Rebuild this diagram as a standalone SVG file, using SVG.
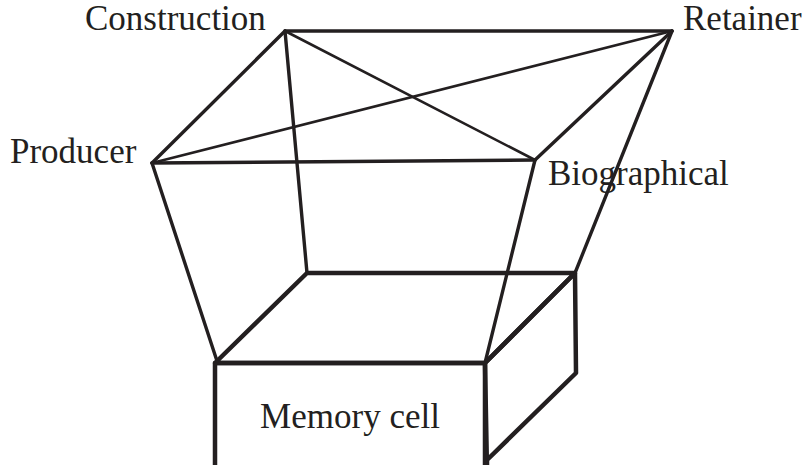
<svg xmlns="http://www.w3.org/2000/svg" width="805" height="465" viewBox="0 0 805 465">
  <style>
    .lbl { font-family: "Liberation Serif", "Times New Roman", serif; font-size: 35px; fill: #231f20; }
    .edge { stroke: #231f20; fill: none; stroke-linecap: round; stroke-linejoin: round; }
    .thin { stroke-width: 2.6; }
    .thick { stroke-width: 3.4; }
    .box { stroke: #231f20; stroke-width: 4.5; fill: none; stroke-linejoin: round; }
  </style>
  <rect width="805" height="465" fill="#fff"/>
  <g id="memory-cell">
    <polygon class="box" points="215,363 307,273 575,273 485,363"/>
    <polygon class="box" points="485,363 575,273 576,373 487,460 487,470"/>
    <rect class="box" x="215" y="363" width="270" height="110"/>
    <text class="lbl" x="350" y="428" text-anchor="middle">Memory cell</text>
  </g>
  <g id="connectors">
    <line class="edge thick" x1="285" y1="31" x2="672" y2="31"/>
    <line class="edge thick" x1="285" y1="31" x2="152" y2="163"/>
    <line class="edge thin" x1="285" y1="31" x2="535" y2="160"/>
    <line class="edge thin" x1="152" y1="163" x2="672" y2="31"/>
    <line class="edge thick" x1="152" y1="163" x2="535" y2="160"/>
    <line class="edge thick" x1="672" y1="31" x2="535" y2="160"/>
    <line class="edge thick" x1="152" y1="163" x2="217" y2="361"/>
    <line class="edge thick" x1="285" y1="31" x2="307" y2="273"/>
    <line class="edge thick" x1="535" y1="160" x2="485" y2="363"/>
    <line class="edge thick" x1="672" y1="31" x2="575" y2="273"/>
  </g>
  <g id="construction"><text class="lbl" x="85" y="30">Construction</text></g>
  <g id="retainer"><text class="lbl" x="683" y="30">Retainer</text></g>
  <g id="producer"><text class="lbl" x="10" y="163">Producer</text></g>
  <g id="biographical"><text class="lbl" x="548" y="185">Biographical</text></g>
</svg>
